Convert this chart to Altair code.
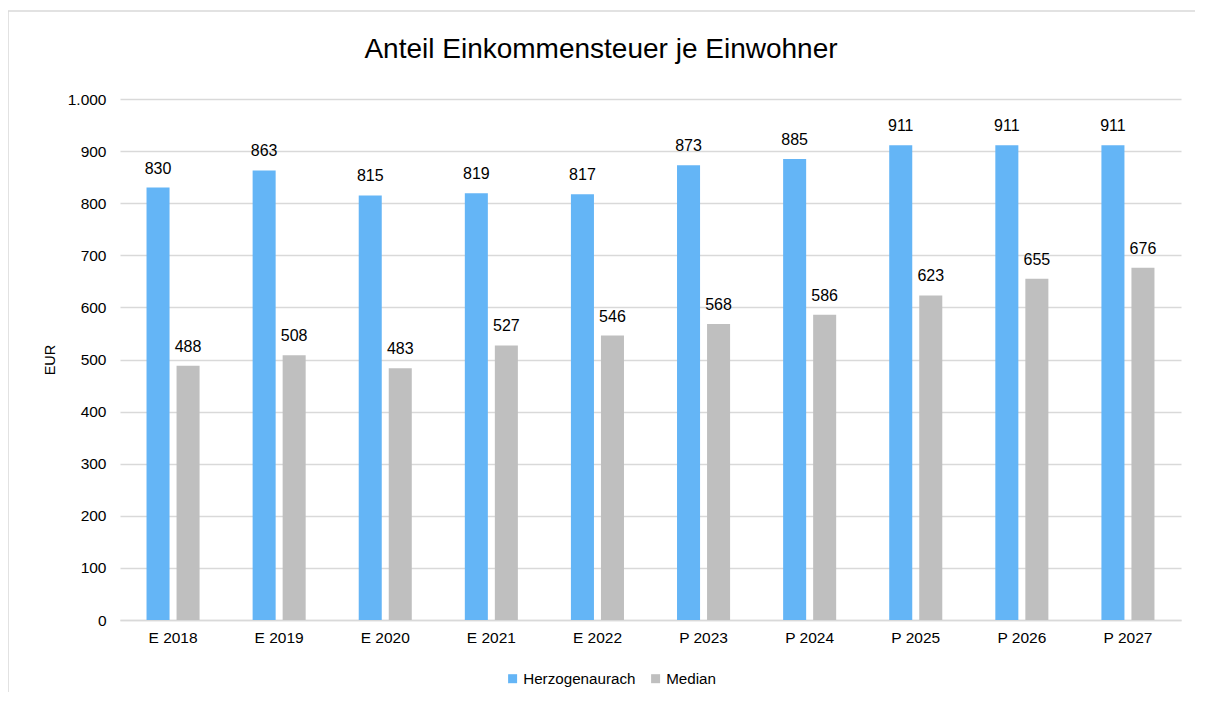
import altair as alt
import pandas as pd

title_text = ["Anteil Einkommensteuer je Einwohner"]
categories = ["E 2018", "E 2019", "E 2020", "E 2021", "E 2022",
              "P 2023", "P 2024", "P 2025", "P 2026", "P 2027"]
herzogenaurach = [830, 863, 815, 819, 817, 873, 885, 911, 911, 911]
median = [488, 508, 483, 527, 546, 568, 586, 623, 655, 676]
series = ["Herzogenaurach", "Median"]
colors = ["#64B5F6", "#BFBFBF"]

rows = []
for c, h, m in zip(categories, herzogenaurach, median):
    rows.append({"Jahr": c, "Serie": series[0], "Wert": h})
    rows.append({"Jahr": c, "Serie": series[1], "Wert": m})
df = pd.DataFrame(rows)

FONT = "Liberation Sans"

x_enc = alt.X("Jahr:N", sort=categories,
              scale=alt.Scale(paddingInner=0.5, paddingOuter=0.25),
              axis=alt.Axis(title=None, labelAngle=0, ticks=False,
                            domainColor="#D9D9D9", domainWidth=1.3,
                            labelFontSize=15.5, labelPadding=10,
                            labelColor="#000000", labelFont=FONT))
xo_enc = alt.XOffset("Serie:N", sort=series,
                     scale=alt.Scale(paddingInner=0.233, paddingOuter=0))
y_enc = alt.Y("Wert:Q", scale=alt.Scale(domain=[0, 1000]),
              axis=alt.Axis(values=list(range(0, 1001, 100)), title="EUR",
                            domain=False, ticks=False, labelPadding=14,
                            labelFontSize=15.5, labelColor="#000000",
                            labelFont=FONT,
                            labelExpr="replace(datum.label, ',', '.')",
                            gridColor="#D9D9D9", gridWidth=1.3,
                            titleFontSize=14.5, titleFontWeight="normal",
                            titleColor="#000000", titleFont=FONT,
                            titlePadding=10))

base = alt.Chart(df)

bars = base.mark_bar().encode(
    x=x_enc,
    xOffset=xo_enc,
    y=y_enc,
    color=alt.Color("Serie:N", sort=series,
                    scale=alt.Scale(domain=series, range=colors),
                    legend=alt.Legend(title=None, orient="none",
                                      legendX=385, legendY=572,
                                      padding=0,
                                      direction="horizontal",
                                      symbolType="square", symbolSize=81,
                                      symbolStrokeWidth=0,
                                      labelFontSize=15.2, labelFont=FONT,
                                      labelColor="#000000",
                                      columnPadding=12, labelOffset=3)),
)

labels = base.mark_text(dy=-14, baseline="alphabetic", fontSize=16,
                        font=FONT, color="#000000").encode(
    x=x_enc,
    xOffset=xo_enc,
    y=y_enc,
    text=alt.Text("Wert:Q"),
)

frame = alt.Chart(alt.Data(values=[{"f": 1}])).mark_rect(
    filled=False, stroke="#D9D9D9", strokeWidth=1.5
).encode(
    x=alt.value(-112), x2=alt.value(1100),
    y=alt.value(-88), y2=alt.value(700),
)

title = alt.Chart(pd.DataFrame({"t": title_text})).mark_text(
    fontSize=28, font=FONT, color="#000000", align="center",
    baseline="alphabetic"
).encode(
    text="t:N",
    x=alt.value(481),
    y=alt.value(-41),
)

chart = alt.layer(frame, bars, labels, title).properties(
    width=1061, height=521,
    padding={"left": 112, "top": 91, "right": 14, "bottom": 72},
    autosize=alt.AutoSizeParams(type="none"),
).configure_view(stroke=None)

chart.save("out.html", embed_options={"renderer": "svg", "actions": False})
